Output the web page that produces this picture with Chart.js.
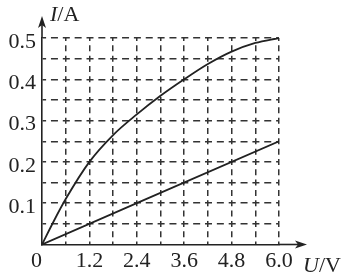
<!DOCTYPE html>
<html>
<head>
<meta charset="utf-8">
<script src="https://cdn.jsdelivr.net/npm/chart.js@4/dist/chart.umd.min.js"></script>
<style>
html,body{margin:0;padding:0;background:#fff;}
canvas{display:block;}
</style>
</head>
<body>
<canvas id="c" width="346" height="275"></canvas>
<script>
// ---- data ----
const curveU = [0, 0.3, 0.6, 1.2, 1.8, 2.4, 3.0, 3.6, 4.2, 4.8, 5.4, 6.0];
const curveI = [0, 0.057, 0.11, 0.2, 0.265, 0.315, 0.36, 0.40, 0.437, 0.467, 0.488, 0.50];
const lineU = [0, 2.4, 6.0];
const lineI = [0, 0.1, 0.25];
const xTickValues = [0, 1.2, 2.4, 3.6, 4.8, 6.0];
const xTickLabels = ['0  ', '1.2', '2.4', '3.6', '4.8', '6.0'];
const yTickValues = [0.1, 0.2, 0.3, 0.4, 0.5];
const yTickLabels = ['0.1', '0.2', '0.3', '0.4', '0.5'];
const xAxisTitle = ['U', '/V'];
const yAxisTitle = ['I', '/A'];

const INK = '#222';
const SERIF = '"Liberation Serif", "Times New Roman", serif';

function labelFor(v, vals, labels) {
  for (let i = 0; i < vals.length; i++) {
    if (Math.abs(v - vals[i]) < 1e-6) return labels[i];
  }
  return '';
}

const arrowsPlugin = {
  id: 'arrows',
  afterDraw(chart) {
    const ctx = chart.ctx;
    const xs = chart.scales.x, ys = chart.scales.y;
    const ox = xs.getPixelForValue(0);
    const oy = ys.getPixelForValue(0);
    const top = chart.chartArea.top, right = chart.chartArea.right;
    ctx.save();
    ctx.strokeStyle = INK;
    ctx.fillStyle = INK;
    ctx.lineWidth = 1.6;
    // y axis extension + arrow
    ctx.beginPath();
    ctx.moveTo(ox, top);
    ctx.lineTo(ox, 24);
    ctx.stroke();
    ctx.beginPath();
    ctx.moveTo(ox, 16);
    ctx.lineTo(ox - 4, 28);
    ctx.lineTo(ox, 25);
    ctx.lineTo(ox + 4, 28);
    ctx.closePath();
    ctx.fill();
    // x axis extension + arrow
    ctx.beginPath();
    ctx.moveTo(right, oy);
    ctx.lineTo(298, oy);
    ctx.stroke();
    ctx.beginPath();
    ctx.moveTo(307, oy);
    ctx.lineTo(295, oy - 4);
    ctx.lineTo(298, oy);
    ctx.lineTo(295, oy + 4);
    ctx.closePath();
    ctx.fill();
    // axis titles
    ctx.textBaseline = 'alphabetic';
    ctx.textAlign = 'left';
    ctx.font = 'italic 22px ' + SERIF;
    ctx.fillText(yAxisTitle[0], 50, 21);
    let w = ctx.measureText(yAxisTitle[0]).width;
    ctx.font = '22px ' + SERIF;
    ctx.fillText(yAxisTitle[1], 50 + w, 21);
    ctx.font = 'italic 22px ' + SERIF;
    ctx.fillText(xAxisTitle[0], 303, 272);
    w = ctx.measureText(xAxisTitle[0]).width;
    ctx.font = '22px ' + SERIF;
    ctx.fillText(xAxisTitle[1], 303 + w, 272);
    ctx.restore();
  }
};

new Chart(document.getElementById('c'), {
  type: 'line',
  data: {
    datasets: [
      {
        data: curveU.map((u, i) => ({x: u, y: curveI[i]})),
        borderColor: INK,
        borderWidth: 1.8,
        pointRadius: 0,
        cubicInterpolationMode: 'monotone',
        fill: false
      },
      {
        data: lineU.map((u, i) => ({x: u, y: lineI[i]})),
        borderColor: INK,
        borderWidth: 1.8,
        pointRadius: 0,
        tension: 0,
        fill: false
      }
    ]
  },
  options: {
    responsive: false,
    animation: false,
    devicePixelRatio: 1,
    layout: { padding: { left: 0, right: 67, top: 38, bottom: 0 } },
    plugins: { legend: { display: false }, tooltip: { enabled: false } },
    scales: {
      x: {
        type: 'linear',
        min: 0, max: 6,
        afterFit(s) { s.height = 30.5; },
        ticks: {
          stepSize: 0.6,
          autoSkip: false,
          maxRotation: 0,
          padding: 4,
          color: INK,
          font: { family: SERIF, size: 22 },
          callback: (v) => labelFor(v, xTickValues, xTickLabels)
        },
        grid: {
          drawTicks: false,
          lineWidth: 1.5,
          color: (c) => (c.tick && Math.abs(c.tick.value) < 1e-6) ? 'rgba(0,0,0,0)' : '#333'
        },
        border: { display: true, color: INK, width: 1.6, dash: [6, 4.33], dashOffset: 3 }
      },
      y: {
        type: 'linear',
        min: 0, max: 0.5,
        afterFit(s) { s.width = 42; },
        ticks: {
          stepSize: 0.05,
          autoSkip: false,
          padding: 6,
          labelOffset: 4,
          color: INK,
          font: { family: SERIF, size: 22 },
          callback: (v) => labelFor(v, yTickValues, yTickLabels)
        },
        grid: {
          drawTicks: false,
          lineWidth: 1.5,
          color: (c) => (c.tick && Math.abs(c.tick.value) < 1e-6) ? 'rgba(0,0,0,0)' : '#333'
        },
        border: { display: true, color: INK, width: 1.6, dash: [7, 4.85], dashOffset: 3.5 }
      }
    }
  },
  plugins: [arrowsPlugin]
});
</script>
</body>
</html>
